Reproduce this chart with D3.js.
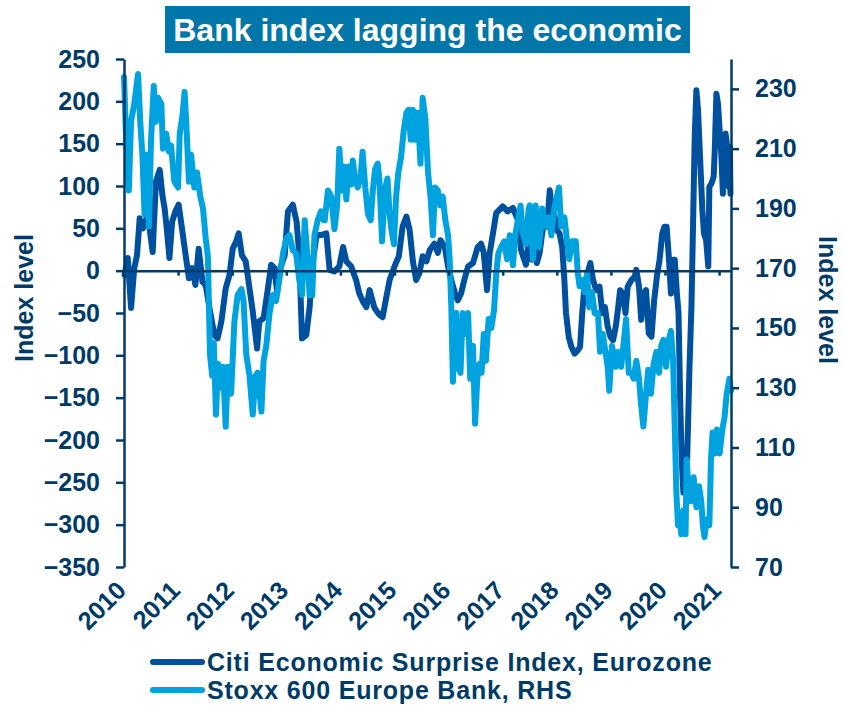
<!DOCTYPE html>
<html>
<head>
<meta charset="utf-8">
<script src="https://cdn.jsdelivr.net/npm/d3@7"></script>
<style>
  body { margin: 0; background: #fff; }
  text { font-family: Arial, "Liberation Sans", sans-serif; font-weight: bold; }
</style>
</head>
<body>
<svg id="chart" width="845" height="707"></svg>
<script>
// chart data (decimal years)
var citiDates = [2010.01,2010.07,2010.13,2010.19,2010.24,2010.29,2010.35,2010.44,2010.53,2010.59,2010.66,2010.71,2010.75,2010.79,2010.84,2010.89,2010.95,2011.01,2011.08,2011.14,2011.20,2011.26,2011.32,2011.38,2011.45,2011.51,2011.58,2011.67,2011.73,2011.80,2011.88,2011.95,2012.01,2012.07,2012.12,2012.18,2012.25,2012.32,2012.38,2012.46,2012.50,2012.58,2012.66,2012.72,2012.78,2012.83,2012.89,2012.97,2013.03,2013.12,2013.19,2013.24,2013.29,2013.37,2013.43,2013.49,2013.56,2013.64,
  2013.74,2013.80,2013.89,2013.98,2014.05,2014.11,2014.20,2014.29,2014.35,2014.42,2014.48,2014.54,2014.63,2014.72,2014.78,2014.85,2014.91,2015.00,2015.08,2015.15,2015.22,2015.28,2015.34,2015.40,2015.46,2015.52,2015.59,2015.65,2015.74,2015.80,2015.85,2015.93,2015.99,2016.05,2016.12,2016.17,2016.23,2016.29,2016.36,2016.45,2016.54,2016.60,2016.65,2016.71,2016.76,2016.82,2016.88,2017.00,2017.09,2017.19,2017.28,2017.34,2017.43,
  2017.50,2017.54,2017.59,2017.63,2017.68,2017.73,2017.77,2017.82,2017.87,2017.91,2017.96,2018.00,2018.05,2018.10,2018.14,2018.17,2018.22,2018.27,2018.33,2018.39,2018.43,2018.47,2018.51,2018.56,2018.62,2018.67,2018.73,2018.79,2018.84,2018.89,2018.94,2018.99,2019.04,2019.09,2019.13,2019.17,2019.22,2019.27,2019.31,2019.38,2019.44,2019.47,2019.52,2019.56,2019.60,2019.65,2019.70,2019.75,2019.80,2019.85,2019.90,2019.95,2019.99,2020.03,2020.07,2020.11,2020.15,2020.18,2020.22,2020.25,
  2020.28,2020.31,2020.34,2020.37,2020.41,2020.45,2020.49,2020.52,2020.55,2020.58,2020.61,2020.65,2020.69,2020.72,2020.76,2020.80,2020.82,2020.86,2020.90,2020.92,2020.95,2020.98,2021.01,2021.04,2021.07,2021.09,2021.12,2021.15,2021.18,2021.20,2021.21];
var citiValues = [-5,15,-44,3,18,62,50,66,22,105,119,89,74,50,15,58,70,78,46,18,-9,3,-17,26,-13,-17,-44,-76,-80,-60,-21,-5,26,34,44,18,11,-21,-48,-92,-60,-56,-21,7,3,-25,3,18,70,78,58,18,-80,-76,-44,11,42,42,
  44,1,-1,5,28,11,5,-11,-27,-37,-43,-23,-44,-52,-55,-31,-11,5,17,52,64,48,11,-11,-3,17,11,24,32,21,36,28,5,-11,-27,-35,-27,-11,5,9,28,32,21,-23,21,44,68,76,70,74,60,24,7,
  44,13,28,9,20,44,60,52,95,68,64,48,44,28,-11,-50,-78,-90,-98,-94,-90,-50,-19,-5,9,-11,-23,-19,-50,-43,-66,-78,-82,-66,-46,-23,-27,-50,-19,-11,-7,1,-19,-58,-27,-23,-74,-78,-35,-7,13,44,52,52,17,-27,13,13,-27,-50,
  -150,-225,-262,-218,-222,-120,-40,60,160,213,190,131,72,44,36,5,99,103,111,142,209,197,166,139,91,158,162,146,99,146,91];

var stoxxDates = [2010.00,2010.04,2010.09,2010.13,2010.19,2010.26,2010.30,2010.34,2010.38,2010.42,2010.46,2010.50,2010.55,2010.59,2010.63,2010.69,2010.72,2010.78,2010.83,2010.87,2010.93,2011.00,2011.03,2011.08,2011.12,2011.15,2011.20,2011.24,2011.30,2011.35,2011.41,2011.46,2011.51,2011.55,2011.59,2011.63,2011.66,2011.70,2011.74,2011.78,2011.83,2011.88,2011.92,2011.98,2012.04,2012.10,2012.17,2012.21,2012.26,2012.32,2012.38,2012.43,2012.47,2012.54,2012.58,2012.63,2012.69,2012.75,2012.81,2012.87,2012.94,2013.00,2013.06,2013.12,2013.18,2013.24,2013.29,2013.34,2013.39,2013.43,2013.48,2013.52,2013.58,2013.64,2013.69,
  2013.71,2013.77,2013.83,2013.89,2013.94,2013.98,2014.03,2014.06,2014.11,2014.15,2014.20,2014.23,2014.27,2014.32,2014.37,2014.41,2014.46,2014.51,2014.56,2014.60,2014.64,2014.69,2014.72,2014.77,2014.82,2014.87,2014.91,2014.95,2014.99,2015.03,2015.07,2015.12,2015.17,2015.22,2015.26,2015.30,2015.34,2015.38,2015.43,2015.48,2015.52,2015.57,2015.62,2015.67,2015.71,2015.75,2015.80,2015.85,2015.89,2015.94,2015.99,2016.02,2016.05,2016.08,2016.11,2016.14,2016.17,2016.22,2016.26,2016.31,2016.36,2016.40,2016.45,2016.49,2016.53,2016.57,2016.61,2016.65,2016.69,2016.74,2016.79,2016.84,2016.88,2016.92,2016.97,2017.03,2017.08,2017.13,2017.19,2017.23,2017.28,2017.33,2017.37,2017.43,2017.48,
  2017.50,2017.56,2017.61,2017.67,2017.73,2017.79,2017.85,2017.90,2017.96,2018.04,2018.08,2018.14,2018.19,2018.23,2018.28,2018.35,2018.39,2018.42,2018.47,2018.51,2018.56,2018.60,2018.65,2018.70,2018.76,2018.80,2018.85,2018.90,2018.94,2018.97,2019.02,2019.09,2019.13,2019.19,2019.23,2019.28,2019.33,2019.38,2019.42,2019.47,2019.52,2019.56,2019.60,2019.65,2019.69,2019.74,2019.79,2019.84,2019.89,2019.93,2019.97,2020.02,2020.07,2020.11,2020.15,2020.18,2020.21,2020.24,2020.27,2020.30,2020.34,2020.38,2020.40,2020.44,2020.48,2020.53,2020.58,2020.63,2020.67,2020.70,2020.73,2020.77,2020.82,2020.85,2020.88,2020.92,2020.96,2021.01,2021.06,2021.10,2021.14,2021.19,2021.22];
var stoxxValues = [234,213,196,219,225,235,219,208,188,208,184,213,231,219,227,225,210,215,209,211,199,197,215,221,229,219,199,208,197,202,194,190,180,174,141,134,145,121,138,130,137,117,137,128,152,161,163,159,141,134,121,134,135,122,139,144,155,161,159,166,175,180,181,176,175,166,161,186,174,161,161,181,186,189,186,
  186,196,194,183,191,210,196,204,193,204,198,206,200,197,200,209,197,188,186,196,203,205,200,179,196,200,188,182,178,194,202,207,216,222,223,213,223,213,222,205,227,220,202,193,181,197,196,191,194,186,181,173,157,132,149,155,137,135,155,148,155,133,144,118,133,138,135,148,139,153,150,156,168,175,177,179,173,181,171,181,186,191,182,178,190,
  191,173,191,177,190,184,187,181,191,197,184,187,179,173,179,179,168,164,166,162,168,157,162,155,155,142,148,142,137,129,144,137,142,137,144,153,135,135,133,139,133,124,117,128,136,128,138,142,135,144,146,137,146,149,139,117,95,84,86,81,89,81,106,95,92,100,90,97,92,84,80,86,84,106,115,108,116,108,116,120,128,133,129];

var yearTicks = d3.range(2010, 2022);
var leftTicks = d3.range(-350, 251, 50);
var rightTicks = d3.range(70, 231, 20);

var seriesNames = ["Citi Economic Surprise Index, Eurozone", "Stoxx 600 Europe Bank, RHS"];
var title = "Bank index lagging the economic";

var navy = "#003b67", darkBlue = "#0050a0", lightBlue = "#00a2e0";

var svg = d3.select("#chart");
var x = d3.scaleLinear().domain([2010, 2021.22]).range([124, 731]);
var yL = d3.scaleLinear().domain([-350, 250]).range([567, 59]);
var yR = d3.scaleLinear().domain([70, 240]).range([567, 59]);

// title box
svg.append("rect").attr("x", 165).attr("y", 6).attr("width", 525).attr("height", 47).attr("fill", "#0077a8");
svg.append("text").attr("x", 427.5).attr("y", 41).attr("text-anchor", "middle")
    .attr("fill", "#fff").style("font-size", "32px").text(title);

// series
var citi = citiDates.map(function(d, i){ return [d, citiValues[i]]; });
var stoxx = stoxxDates.map(function(d, i){ return [d, stoxxValues[i]]; });

svg.append("path").datum(citi)
    .attr("d", d3.line().x(function(d){ return x(d[0]); }).y(function(d){ return yL(d[1]); }))
    .attr("fill", "none").attr("stroke", darkBlue).attr("stroke-width", 6)
    .attr("stroke-linejoin", "round").attr("stroke-linecap", "round");
svg.append("path").datum(stoxx)
    .attr("d", d3.line().x(function(d){ return x(d[0]); }).y(function(d){ return yR(d[1]); }))
    .attr("fill", "none").attr("stroke", lightBlue).attr("stroke-width", 6)
    .attr("stroke-linejoin", "round").attr("stroke-linecap", "round");

// axes
var styleAxis = function(g){
    g.selectAll("path, line").attr("stroke", navy).attr("stroke-width", 2.5);
    g.selectAll("text").attr("fill", navy).style("font-size", "25px").style("font-family", null);
};

svg.append("g").attr("transform", "translate(0," + yL(0) + ")")
    .call(d3.axisBottom(x).tickValues(yearTicks).tickSize(5).tickSizeOuter(0).tickFormat(""))
    .call(styleAxis);

var xl = svg.append("g").attr("transform", "translate(0,567)")
    .call(d3.axisBottom(x).tickValues(yearTicks).tickSize(0).tickFormat(d3.format("d")))
    .call(styleAxis);
xl.select(".domain").remove();
xl.selectAll("text").attr("text-anchor", "end").attr("dy", null).attr("y", 0)
    .attr("transform", "translate(3,25) rotate(-45)");

svg.append("g").attr("transform", "translate(124,0)")
    .call(d3.axisLeft(yL).tickValues(leftTicks).tickSize(8).tickPadding(16).tickSizeOuter(0))
    .call(styleAxis);
svg.append("g").attr("transform", "translate(731,0)")
    .call(d3.axisRight(yR).tickValues(rightTicks).tickSize(8).tickPadding(16).tickSizeOuter(0))
    .call(styleAxis);

// axis titles
svg.append("text").attr("transform", "translate(33,298) rotate(-90)").attr("text-anchor", "middle")
    .attr("fill", navy).style("font-size", "25px").text("Index level");
svg.append("text").attr("transform", "translate(819,300) rotate(90)").attr("text-anchor", "middle")
    .attr("fill", navy).style("font-size", "25px").text("Index level");

// legend
var legend = svg.selectAll(".leg").data(seriesNames).enter().append("g")
    .attr("transform", function(d, i){ return "translate(0," + (662 + i * 28) + ")"; });
legend.append("line").attr("x1", 153).attr("x2", 202).attr("y1", 0).attr("y2", 0)
    .attr("stroke", function(d, i){ return i == 0 ? darkBlue : lightBlue; })
    .attr("stroke-width", 6).attr("stroke-linecap", "round");
legend.append("text").attr("x", 207).attr("y", 9).attr("fill", navy)
    .style("font-size", "25px").style("letter-spacing", "0.8px").text(function(d){ return d; });
</script>
</body>
</html>
